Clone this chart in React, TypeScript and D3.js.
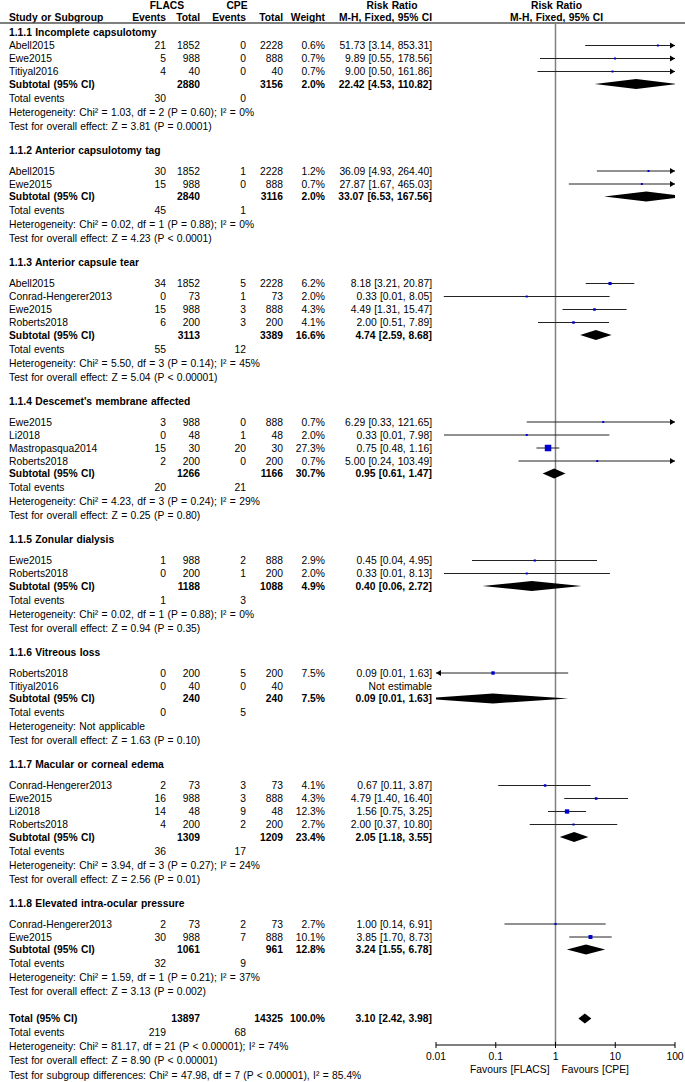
import React from 'react';
import * as d3 from 'd3';

// subgroup headings
const subgroupNames = [
  '1.1.1 Incomplete capsulotomy',
  '1.1.2 Anterior capsulotomy tag',
  '1.1.3 Anterior capsule tear',
  "1.1.4 Descemet's membrane affected",
  '1.1.5 Zonular dialysis',
  '1.1.6 Vitreous loss',
  '1.1.7 Macular or corneal edema',
  '1.1.8 Elevated intra-ocular pressure',
];

// [subgroup, study, FLACS events, FLACS total, CPE events, CPE total, weight %, RR, lower, upper]
const studyRows: [number, string, number, number, number, number, number | null, number | null, number | null, number | null][] = [
  [0, 'Abell2015', 21, 1852, 0, 2228, 0.6, 51.73, 3.14, 853.31],
  [0, 'Ewe2015', 5, 988, 0, 888, 0.7, 9.89, 0.55, 178.56],
  [0, 'Titiyal2016', 4, 40, 0, 40, 0.7, 9.0, 0.5, 161.86],
  [1, 'Abell2015', 30, 1852, 1, 2228, 1.2, 36.09, 4.93, 264.4],
  [1, 'Ewe2015', 15, 988, 0, 888, 0.7, 27.87, 1.67, 465.03],
  [2, 'Abell2015', 34, 1852, 5, 2228, 6.2, 8.18, 3.21, 20.87],
  [2, 'Conrad-Hengerer2013', 0, 73, 1, 73, 2.0, 0.33, 0.0135, 8.05],
  [2, 'Ewe2015', 15, 988, 3, 888, 4.3, 4.49, 1.31, 15.47],
  [2, 'Roberts2018', 6, 200, 3, 200, 4.1, 2.0, 0.51, 7.89],
  [3, 'Ewe2015', 3, 988, 0, 888, 0.7, 6.29, 0.33, 121.65],
  [3, 'Li2018', 0, 48, 1, 48, 2.0, 0.33, 0.0136, 7.98],
  [3, 'Mastropasqua2014', 15, 30, 20, 30, 27.3, 0.75, 0.48, 1.16],
  [3, 'Roberts2018', 2, 200, 0, 200, 0.7, 5.0, 0.24, 103.49],
  [4, 'Ewe2015', 1, 988, 2, 888, 2.9, 0.45, 0.04, 4.95],
  [4, 'Roberts2018', 0, 200, 1, 200, 2.0, 0.33, 0.0136, 8.13],
  [5, 'Roberts2018', 0, 200, 5, 200, 7.5, 0.09, 0.006, 1.63],
  [5, 'Titiyal2016', 0, 40, 0, 40, null, null, null, null],
  [6, 'Conrad-Hengerer2013', 2, 73, 3, 73, 4.1, 0.67, 0.11, 3.87],
  [6, 'Ewe2015', 16, 988, 3, 888, 4.3, 4.79, 1.4, 16.4],
  [6, 'Li2018', 14, 48, 9, 48, 12.3, 1.56, 0.75, 3.25],
  [6, 'Roberts2018', 4, 200, 2, 200, 2.7, 2.0, 0.37, 10.8],
  [7, 'Conrad-Hengerer2013', 2, 73, 2, 73, 2.7, 1.0, 0.14, 6.91],
  [7, 'Ewe2015', 30, 988, 7, 888, 10.1, 3.85, 1.7, 8.73],
];

// [FLACS total, CPE total, weight %, RR, lower, upper]
const subtotalRows: [number, number, number, number, number, number][] = [
  [2880, 3156, 2.0, 22.42, 4.53, 110.82],
  [2840, 3116, 2.0, 33.07, 6.53, 167.56],
  [3113, 3389, 16.6, 4.74, 2.59, 8.68],
  [1266, 1166, 30.7, 0.95, 0.61, 1.47],
  [1188, 1088, 4.9, 0.4, 0.06, 2.72],
  [240, 240, 7.5, 0.09, 0.006, 1.63],
  [1309, 1209, 23.4, 2.05, 1.18, 3.55],
  [1061, 961, 12.8, 3.24, 1.55, 6.78],
];

const totalEvents: [number, number][] = [
  [30, 0], [45, 1], [55, 12], [20, 21], [1, 3], [0, 5], [36, 17], [32, 9],
];

const heterogeneity = [
  'Heterogeneity: Chi² = 1.03, df = 2 (P = 0.60); I² = 0%',
  'Heterogeneity: Chi² = 0.02, df = 1 (P = 0.88); I² = 0%',
  'Heterogeneity: Chi² = 5.50, df = 3 (P = 0.14); I² = 45%',
  'Heterogeneity: Chi² = 4.23, df = 3 (P = 0.24); I² = 29%',
  'Heterogeneity: Chi² = 0.02, df = 1 (P = 0.88); I² = 0%',
  'Heterogeneity: Not applicable',
  'Heterogeneity: Chi² = 3.94, df = 3 (P = 0.27); I² = 24%',
  'Heterogeneity: Chi² = 1.59, df = 1 (P = 0.21); I² = 37%',
];

const overallTests = [
  'Test for overall effect: Z = 3.81 (P = 0.0001)',
  'Test for overall effect: Z = 4.23 (P < 0.0001)',
  'Test for overall effect: Z = 5.04 (P < 0.00001)',
  'Test for overall effect: Z = 0.25 (P = 0.80)',
  'Test for overall effect: Z = 0.94 (P = 0.35)',
  'Test for overall effect: Z = 1.63 (P = 0.10)',
  'Test for overall effect: Z = 2.56 (P = 0.01)',
  'Test for overall effect: Z = 3.13 (P = 0.002)',
];

const overallRow: [number, number, number, number, number, number] = [13897, 14325, 100.0, 3.1, 2.42, 3.98];
const overallEvents: [number, number] = [219, 68];
const overallNotes = [
  'Heterogeneity: Chi² = 81.17, df = 21 (P < 0.00001); I² = 74%',
  'Test for overall effect: Z = 8.90 (P < 0.00001)',
  'Test for subgroup differences: Chi² = 47.98, df = 7 (P < 0.00001), I² = 85.4%',
];

const axisTicks = [0.01, 0.1, 1, 10, 100];
const tickLabels = ['0.01', '0.1', '1', '10', '100'];

const width = 685;
const height = 1082;
const font = '"Liberation Sans", Arial, sans-serif';
const fs = 10.3;

// column right edges
const col = { left: 9, e1: 166, n1: 200, e2: 246, n2: 283, w: 325, ci: 432 };

const x = d3.scaleLog().domain([0.01, 100]).range([436, 675]);
const boxSize = d3.scaleSqrt().domain([0, 27.3]).range([0, 6.5]);
const f2 = d3.format('.2f');
const ciText = (rr: number, lo: number, hi: number) => `${f2(rr)} [${f2(lo)}, ${f2(hi)}]`;
const pct = (w: number) => `${w.toFixed(1)}%`;

type Row = { kind: string; y: number; g?: number; s?: number };

function layout(): Row[] {
  const rows: Row[] = [];
  let y = 32;
  subgroupNames.forEach((_, g) => {
    if (g > 0) y += 24;
    rows.push({ kind: 'heading', y, g });
    y += g === 0 ? 13.5 : 21;
    const idx = studyRows.map((r, i) => [r, i] as const).filter(([r]) => r[0] === g);
    idx.forEach(([, i], k) => {
      if (k > 0) y += 13;
      rows.push({ kind: 'study', y, g, s: i });
    });
    y += 12.5; rows.push({ kind: 'subtotal', y, g });
    y += 14; rows.push({ kind: 'events', y, g });
    y += 14; rows.push({ kind: 'het', y, g });
    y += 14; rows.push({ kind: 'test', y, g });
  });
  y += 27; rows.push({ kind: 'total', y });
  y += 14; rows.push({ kind: 'totalEvents', y });
  overallNotes.forEach((_, k) => {
    y += k === 2 ? 14.5 : 14;
    rows.push({ kind: 'note', y, s: k });
  });
  return rows;
}

const T = (props: any) => (
  <text fontFamily={font} fontSize={fs} dy="0.35em" fill="#000" wordSpacing={0.5} {...props} />
);

function Diamond({ y, rr, lo, hi }: { y: number; rr: number; lo: number; hi: number }) {
  const p = [[x(lo), y], [x(rr), y - 5], [x(hi), y], [x(rr), y + 5]];
  return <path d={d3.line()(p as [number, number][])! + 'Z'} fill="#000" clipPath="url(#plotClip)" />;
}

function CiLine({ y, rr, lo, hi, w }: { y: number; rr: number; lo: number; hi: number; w: number }) {
  const [d0, d1] = x.domain();
  const [r0, r1] = x.range();
  const xl = lo < d0 ? r0 : x(lo);
  const xh = hi > d1 ? r1 : x(hi);
  const s = Math.max(2, boxSize(w));
  return (
    <g>
      <line x1={xl} x2={xh} y1={y} y2={y} stroke="#222" strokeWidth={1} />
      {hi > d1 && <path d={`M${r1},${y}L${r1 - 5},${y - 3}L${r1 - 5},${y + 3}Z`} fill="#000" />}
      {lo < d0 && <path d={`M${r0},${y}L${r0 + 5},${y - 3}L${r0 + 5},${y + 3}Z`} fill="#000" />}
      <rect x={x(rr) - s / 2} y={y - s / 2} width={s} height={s} fill="#0000cc" />
    </g>
  );
}

export default function App() {
  const rows = layout();
  const axisY = 1045;
  const lineTop = 23;
  return (
    <svg width={width} height={height} style={{ position: 'absolute', left: 0, top: 0, background: '#fff' }}>
      <defs>
        <clipPath id="plotClip">
          <rect x={x.range()[0]} y={0} width={x.range()[1] - x.range()[0]} height={height} />
        </clipPath>
      </defs>

      {/* header */}
      <g fontWeight="bold">
        <T x={167} y={5} textAnchor="middle">FLACS</T>
        <T x={237} y={5} textAnchor="middle">CPE</T>
        <T x={392} y={5} textAnchor="middle">Risk Ratio</T>
        <T x={x(1) + 1} y={5} textAnchor="middle">Risk Ratio</T>
        <T x={col.left} y={17}>Study or Subgroup</T>
        <T x={col.e1} y={17} textAnchor="end">Events</T>
        <T x={col.n1} y={17} textAnchor="end">Total</T>
        <T x={col.e2} y={17} textAnchor="end">Events</T>
        <T x={col.n2} y={17} textAnchor="end">Total</T>
        <T x={col.w} y={17} textAnchor="end">Weight</T>
        <T x={col.ci} y={17} textAnchor="end">M-H, Fixed, 95% CI</T>
        <T x={x(1) + 1} y={17} textAnchor="middle">M-H, Fixed, 95% CI</T>
      </g>
      <line x1={0} x2={width} y1={lineTop} y2={lineTop} stroke="#555" strokeWidth={1.5} />

      {/* null line */}
      <line x1={x(1)} x2={x(1)} y1={lineTop} y2={axisY} stroke="#808080" strokeWidth={1.5} />

      {rows.map((r, i) => {
        if (r.kind === 'heading') {
          return <T key={i} x={col.left} y={r.y} fontWeight="bold">{subgroupNames[r.g!]}</T>;
        }
        if (r.kind === 'study') {
          const [, name, e1, n1, e2, n2, w, rr, lo, hi] = studyRows[r.s!];
          return (
            <g key={i}>
              <T x={col.left} y={r.y}>{name}</T>
              <T x={col.e1} y={r.y} textAnchor="end">{e1}</T>
              <T x={col.n1} y={r.y} textAnchor="end">{n1}</T>
              <T x={col.e2} y={r.y} textAnchor="end">{e2}</T>
              <T x={col.n2} y={r.y} textAnchor="end">{n2}</T>
              {w != null && <T x={col.w} y={r.y} textAnchor="end">{pct(w)}</T>}
              <T x={col.ci} y={r.y} textAnchor="end">
                {rr != null ? ciText(rr, lo!, hi!) : 'Not estimable'}
              </T>
              {rr != null && <CiLine y={r.y} rr={rr} lo={lo!} hi={hi!} w={w!} />}
            </g>
          );
        }
        if (r.kind === 'subtotal' || r.kind === 'total') {
          const [n1, n2, w, rr, lo, hi] = r.kind === 'total' ? overallRow : subtotalRows[r.g!];
          return (
            <g key={i}>
              <g fontWeight="bold">
                <T x={col.left} y={r.y}>{r.kind === 'total' ? 'Total (95% CI)' : 'Subtotal (95% CI)'}</T>
                <T x={col.n1} y={r.y} textAnchor="end">{n1}</T>
                <T x={col.n2} y={r.y} textAnchor="end">{n2}</T>
                <T x={col.w} y={r.y} textAnchor="end">{pct(w)}</T>
                <T x={col.ci} y={r.y} textAnchor="end">{ciText(rr, lo, hi)}</T>
              </g>
              <Diamond y={r.y} rr={rr} lo={lo} hi={hi} />
            </g>
          );
        }
        if (r.kind === 'events' || r.kind === 'totalEvents') {
          const [a, b] = r.kind === 'events' ? totalEvents[r.g!] : overallEvents;
          return (
            <g key={i}>
              <T x={col.left} y={r.y}>Total events</T>
              <T x={col.e1} y={r.y} textAnchor="end">{a}</T>
              <T x={col.e2} y={r.y} textAnchor="end">{b}</T>
            </g>
          );
        }
        if (r.kind === 'het') return <T key={i} x={col.left} y={r.y}>{heterogeneity[r.g!]}</T>;
        if (r.kind === 'test') return <T key={i} x={col.left} y={r.y}>{overallTests[r.g!]}</T>;
        return <T key={i} x={col.left} y={r.y}>{overallNotes[r.s!]}</T>;
      })}

      {/* axis */}
      <g>
        <line x1={x.range()[0]} x2={x.range()[1]} y1={axisY} y2={axisY} stroke="#000" strokeWidth={1} />
        {axisTicks.map((t, i) => (
          <g key={t}>
            <line x1={x(t)} x2={x(t)} y1={axisY - 3} y2={axisY + 3} stroke="#000" strokeWidth={1} />
            <T x={x(t)} y={axisY + 11} textAnchor="middle">{tickLabels[i]}</T>
          </g>
        ))}
        <T x={x(1) - 6} y={axisY + 24} textAnchor="end">Favours [FLACS]</T>
        <T x={x(1) + 6} y={axisY + 24}>Favours [CPE]</T>
      </g>
    </svg>
  );
}
